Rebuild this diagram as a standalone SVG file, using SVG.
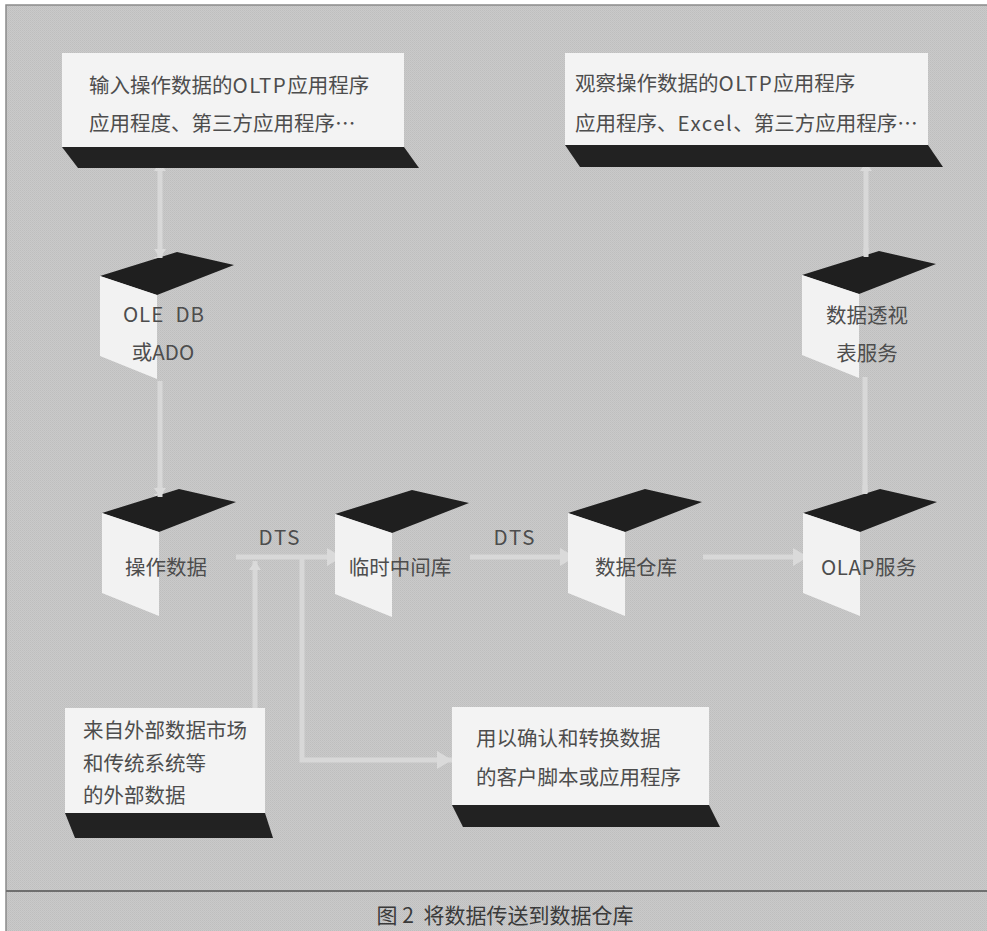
<svg xmlns="http://www.w3.org/2000/svg" width="987" height="931" viewBox="0 0 987 931">
  <defs>
    <pattern id="dither" width="2" height="2" patternUnits="userSpaceOnUse">
      <rect width="2" height="2" fill="#cacaca"/>
      <rect width="1" height="1" fill="#bebebe"/>
      <rect x="1" y="1" width="1" height="1" fill="#c2c2c2"/>
    </pattern>
    <marker id="arrow" markerUnits="userSpaceOnUse" markerWidth="16" markerHeight="18" refX="15" refY="9" orient="auto-start-reverse">
      <path d="M0,0 L15,9 L0,18 z" fill="#dadada"/>
    </marker>
    <marker id="arrowSmall" markerUnits="userSpaceOnUse" markerWidth="10" markerHeight="12" refX="9" refY="6" orient="auto-start-reverse">
      <path d="M0,0 L9,6 L0,12 z" fill="#dadada"/>
    </marker>
    <g id="cube">
      <polygon class="cube-top" points="0,0 77,-24 134,-11 57,19"/>
      <polygon class="cube-face" points="0,0 57,19 57,103 0,80"/>
    </g>
    <style>
      .bg { fill: url(#dither); }
      .frame { stroke: #8a8a8a; stroke-width: 1.5; fill: none; }
      .divider { stroke: #6f6f6f; stroke-width: 1.8; }
      .box { fill: #f3f3f3; }
      .shadow { fill: #222222; }
      .cube-top { fill: #1f1f1f; }
      .cube-face { fill: #f2f2f2; }
      .conn { stroke: #d8d8d8; stroke-width: 5; fill: none; }
      .t { font-family: "Noto Sans CJK SC", "Noto Sans", sans-serif; font-size: 20.5px; fill: #4d4d4d; white-space: pre; }
      .c { text-anchor: middle; }
      .lat { letter-spacing: 1.5px; }
      .cap { font-family: "Noto Sans CJK SC", "Noto Sans", sans-serif; font-size: 21px; fill: #3a3a3a; text-anchor: middle; white-space: pre; }
    </style>
  </defs>

  <rect width="987" height="931" fill="#ffffff"/>
  <rect x="6" y="5" width="981" height="926" class="bg"/>
  <path class="frame" d="M6,931 V5 H987"/>
  <line class="divider" x1="6" y1="891" x2="987" y2="891"/>

  <g id="connectors">
    <line class="conn" x1="160" y1="162" x2="160" y2="266" marker-start="url(#arrowSmall)" marker-end="url(#arrowSmall)"/>
    <line class="conn" x1="160" y1="381" x2="160" y2="503" marker-end="url(#arrowSmall)"/>
    <line class="conn" x1="236" y1="557" x2="342" y2="557" marker-end="url(#arrow)"/>
    <line class="conn" x1="470" y1="557" x2="575" y2="557" marker-end="url(#arrow)"/>
    <line class="conn" x1="703" y1="557" x2="808" y2="557" marker-end="url(#arrow)"/>
    <line class="conn" x1="255" y1="711" x2="255" y2="561" marker-end="url(#arrowSmall)"/>
    <polyline class="conn" points="302,557 302,760 452,760" marker-end="url(#arrow)"/>
    <line class="conn" x1="865" y1="497" x2="865" y2="377"/>
    <line class="conn" x1="866" y1="258" x2="866" y2="162" marker-end="url(#arrowSmall)"/>
  </g>

  <g id="node-oltp-input">
    <rect class="box" x="62" y="53" width="342" height="94"/>
    <polygon class="shadow" points="62,147 404,147 419,168 78,168"/>
    <text class="t" x="89" y="93">输入操作数据的<tspan class="lat">OLTP</tspan>应用程序</text>
    <text class="t" x="89" y="131">应用程度、第三方应用程序…</text>
  </g>

  <g id="node-oltp-view">
    <rect class="box" x="565" y="53" width="363" height="92"/>
    <polygon class="shadow" points="565,145 928,145 943,167 580,167"/>
    <text class="t" x="575" y="91">观察操作数据的<tspan class="lat">OLTP</tspan>应用程序</text>
    <text class="t" x="575" y="131">应用程序、<tspan class="lat">Excel</tspan>、第三方应用程序…</text>
  </g>

  <g id="node-oledb">
    <use href="#cube" x="100" y="276"/>
    <text class="t c" x="164" y="322" letter-spacing="1">OLE  DB</text>
    <text class="t c" x="163" y="360">或ADO</text>
  </g>

  <g id="node-pivot">
    <use href="#cube" x="802" y="275"/>
    <text class="t c" x="867" y="323">数据透视</text>
    <text class="t c" x="867" y="361">表服务</text>
  </g>

  <g id="node-opdata">
    <use href="#cube" x="102" y="513"/>
    <text class="t c" x="166" y="575">操作数据</text>
  </g>

  <g id="node-staging">
    <use href="#cube" x="335" y="514"/>
    <text class="t c" x="400" y="575">临时中间库</text>
  </g>

  <g id="node-warehouse">
    <use href="#cube" x="568" y="513"/>
    <text class="t c" x="636" y="575">数据仓库</text>
  </g>

  <g id="node-olap">
    <use href="#cube" x="803" y="513"/>
    <text class="t c" x="869" y="575" letter-spacing="0.5">OLAP服务</text>
  </g>

  <g id="connector-labels">
    <text class="t c" x="280" y="545" letter-spacing="2">DTS</text>
    <text class="t c" x="515" y="545" letter-spacing="2">DTS</text>
  </g>

  <g id="connector-notches">
    <line class="conn" x1="160" y1="250" x2="160" y2="258" marker-end="url(#arrowSmall)"/>
    <line class="conn" x1="160" y1="487" x2="160" y2="497" marker-end="url(#arrowSmall)"/>
    <line class="conn" x1="865" y1="485" x2="865" y2="494"/>
    <line class="conn" x1="866" y1="248" x2="866" y2="257"/>
  </g>

  <g id="node-external">
    <rect class="box" x="65" y="708" width="200" height="105"/>
    <polygon class="shadow" points="65,813 265,813 273,838 75,838"/>
    <text class="t" x="83" y="738">来自外部数据市场</text>
    <text class="t" x="83" y="771">和传统系统等</text>
    <text class="t" x="83" y="803">的外部数据</text>
  </g>

  <g id="node-script">
    <rect class="box" x="452" y="707" width="257" height="98"/>
    <polygon class="shadow" points="452,805 709,805 720,827 463,827"/>
    <text class="t" x="476" y="746">用以确认和转换数据</text>
    <text class="t" x="476" y="785">的客户脚本或应用程序</text>
  </g>

  <text class="cap" x="505" y="923">图 2  将数据传送到数据仓库</text>
</svg>
